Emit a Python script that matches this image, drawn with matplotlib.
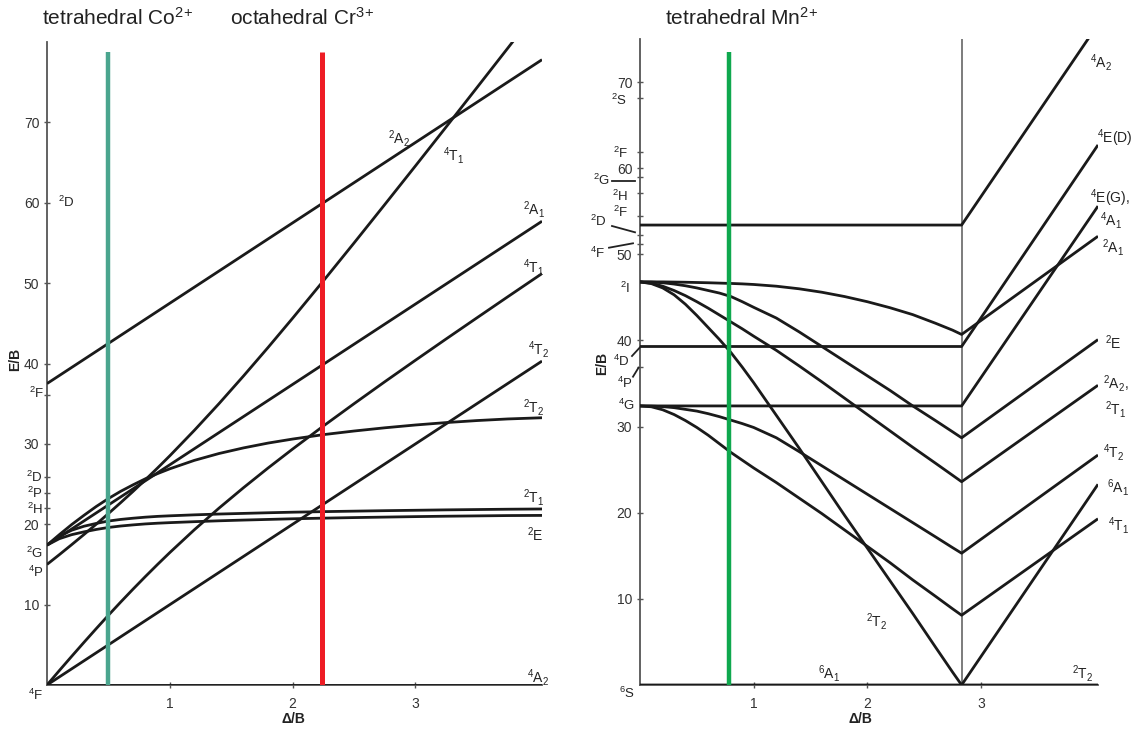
import matplotlib
matplotlib.use('Agg')
import matplotlib.pyplot as plt
from matplotlib.lines import Line2D

plt.rcParams['font.family'] = ['Liberation Sans', 'DejaVu Sans']
plt.rcParams['mathtext.fontset'] = 'custom'
plt.rcParams['mathtext.rm'] = 'Liberation Sans'
plt.rcParams['mathtext.it'] = 'Liberation Sans:italic'
plt.rcParams['mathtext.bf'] = 'Liberation Sans:bold'

# ---------------- data: left panel (d3: tetrahedral Co2+, octahedral Cr3+) -------------
cocr_x = [0, 0.1, 0.2, 0.3, 0.4, 0.5, 0.6, 0.7, 0.8, 0.9, 1.0, 1.2, 1.4, 1.6, 1.8, 2.0,
          2.25, 2.5, 2.75, 3.0, 3.25, 3.5, 3.75, 4.03]
cocr_4T1F = [0, 1.79, 3.55, 5.29, 7.0, 8.68, 10.32, 11.92, 13.48, 15.0, 16.48, 19.32,
             22.0, 24.55, 27.0, 29.36, 32.22, 35.0, 37.73, 40.41, 43.06, 45.68, 48.29, 51.19]
cocr_4T1P = [15.0, 16.21, 17.45, 18.71, 20.0, 21.33, 22.69, 24.08, 25.52, 27.0, 28.52,
             31.69, 35.0, 38.45, 42.0, 45.64, 50.28, 55.0, 59.78, 64.59, 69.44, 74.32,
             79.21, 84.71]
cocr_2T2 = [17.4, 18.7, 19.95, 21.1, 22.2, 23.2, 24.1, 24.9, 25.65, 26.3, 26.9, 27.95,
            28.8, 29.5, 30.1, 30.6, 31.15, 31.6, 32.0, 32.35, 32.65, 32.9, 33.1, 33.25]
cocr_2T1 = [17.4, 18.5, 19.25, 19.75, 20.1, 20.4, 20.6, 20.75, 20.88, 20.98, 21.05, 21.17,
            21.27, 21.35, 21.43, 21.5, 21.57, 21.63, 21.69, 21.74, 21.79, 21.83, 21.87, 21.9]
cocr_2E = [17.4, 18.2, 18.7, 19.05, 19.35, 19.6, 19.78, 19.92, 20.04, 20.13, 20.2, 20.32,
           20.43, 20.52, 20.6, 20.68, 20.76, 20.83, 20.89, 20.95, 21.0, 21.04, 21.08, 21.1]
cocr_line_x = [0, 4.03]
cocr_4A2 = [0, 0]
cocr_4T2 = [0, 40.3]
cocr_2A1 = [17.4, 57.7]
cocr_2A2 = [37.5, 77.8]
co_dq = 0.5
cr_dq = 2.24
cocr_marker_top = 78.8
cocr_yticks = [10, 20, 30, 40, 50, 60, 70]
cocr_term_ticks = [36.1, 25.9, 23.9, 22.0]

# ---------------- data: right panel (d5: tetrahedral Mn2+) ----------------
mn_x = [0, 0.1, 0.2, 0.3, 0.4, 0.5, 0.6, 0.7, 0.8, 0.9, 1.0, 1.2, 1.4, 1.6, 1.8, 2.0,
        2.2, 2.4, 2.6, 2.75, 2.83, 4.03]
mn_6A1 = [0] * 21 + [23.3]
mn_2T2 = [46.8, 46.6, 46.1, 45.3, 44.2, 42.9, 41.5, 40.1, 38.6, 36.9, 35.1, 31.3, 27.5,
          23.6, 19.7, 15.9, 12.1, 8.3, 4.4, 1.5, 0, 0]
mn_4T1 = [32.4, 32.3, 31.95, 31.4, 30.7, 29.9, 29.0, 28.0, 27.0, 26.1, 25.2, 23.5, 21.7,
          19.9, 18.0, 16.1, 14.2, 12.2, 10.3, 8.85, 8.1, 19.3]
mn_4T2 = [32.4, 32.38, 32.32, 32.2, 32.0, 31.8, 31.5, 31.15, 30.75, 30.35, 29.9, 28.7,
          27.1, 25.45, 23.8, 22.15, 20.5, 18.85, 17.2, 15.95, 15.3, 26.7]
mn_2A2_2T1 = [46.8, 46.65, 46.3, 45.8, 45.2, 44.5, 43.75, 42.95, 42.15, 41.35, 40.5,
              38.85, 37.05, 35.2, 33.3, 31.4, 29.5, 27.6, 25.75, 24.35, 23.6, 34.8]
mn_2E = [46.8, 46.78, 46.7, 46.55, 46.35, 46.1, 45.8, 45.5, 45.1, 44.5, 43.85, 42.6,
         41.0, 39.3, 37.6, 35.9, 34.2, 32.4, 30.7, 29.4, 28.7, 40.1]
mn_2A1 = [46.8, 46.8, 46.8, 46.78, 46.76, 46.73, 46.7, 46.66, 46.62, 46.57, 46.5, 46.3,
          46.0, 45.6, 45.1, 44.5, 43.8, 43.0, 42.0, 41.2, 40.7, 52.1]
mn_4E_G = [32.4] * 21 + [55.6]
mn_4E_D = [39.3] * 21 + [62.7]
mn_4A2 = [53.4] * 21 + [76.7]
mn_dq = 0.78
mn_crossover = 2.83
mn_marker_top = 73.5
mn_yticks = [10, 20, 30, 40, 50, 60, 70]
mn_term_ticks = [68.1, 61.9, 59.0, 57.1, 54.4, 52.2, 51.2, 36.9]

# ---------------- figure ----------------
W, H = 1131, 738
fig = plt.figure(figsize=(W / 100, H / 100), dpi=100)


def fx(px):
    return px / W


def fy(py):
    return 1 - py / H


LINE = '#1a1a1a'
LW = 2.0
SPINE = '#555555'

axL = fig.add_axes([fx(47), fy(685), fx(542) - fx(47), fy(42) - fy(685)])
axR = fig.add_axes([fx(640), fy(685), fx(1098) - fx(640), fy(39) - fy(685)])

for ax, ymax, yt, tt in [(axL, 80, cocr_yticks, cocr_term_ticks),
                         (axR, 75, mn_yticks, mn_term_ticks)]:
    ax.set_xlim(0, 4.03)
    ax.set_ylim(0, ymax)
    for s in ['top', 'right']:
        ax.spines[s].set_visible(False)
    for s in ['left', 'bottom']:
        ax.spines[s].set_color(SPINE)
        ax.spines[s].set_linewidth(1.3)
    ax.set_xticks([1, 2, 3])
    ax.set_xticklabels(['1', '2', '3'])
    ax.set_yticks(yt)
    ax.set_yticklabels([str(v) for v in yt])
    ax.set_yticks(tt, minor=True)
    ax.tick_params(axis='both', which='both', direction='inout', length=5,
                   width=1.0, color=SPINE, labelsize=10, labelcolor='#333333')
    ax.tick_params(axis='y', which='both', pad=3)
    ax.tick_params(axis='x', which='both', pad=6)
    ax.patch.set_alpha(0)

# left curves
kw = dict(color=LINE, lw=LW, solid_capstyle='butt', solid_joinstyle='round', zorder=3)
for ys in [cocr_4T1F, cocr_4T1P, cocr_2T2, cocr_2T1, cocr_2E]:
    axL.plot(cocr_x, ys, **kw)
for ys in [cocr_4A2, cocr_4T2, cocr_2A1, cocr_2A2]:
    axL.plot(cocr_line_x, ys, **kw)
axL.plot([co_dq, co_dq], [0, cocr_marker_top], color='#4aa58e', lw=3.2, zorder=5,
         solid_capstyle='butt')
axL.plot([cr_dq, cr_dq], [0, cocr_marker_top], color='#ee1c24', lw=3.6, zorder=5,
         solid_capstyle='butt')

# right curves
axR.plot([mn_crossover, mn_crossover], [0, 75], color='#666666', lw=1.2, zorder=2)
for ys in [mn_6A1, mn_2T2, mn_4T1, mn_4T2, mn_2A2_2T1, mn_2E, mn_2A1,
           mn_4E_G, mn_4E_D, mn_4A2]:
    axR.plot(mn_x, ys, **kw)
axR.plot([mn_dq, mn_dq], [0, mn_marker_top], color='#0fa84e', lw=3.2, zorder=5,
         solid_capstyle='butt')


def pt(px, py, s, ha='left', size=10, **k):
    fig.text(fx(px), fy(py), s, ha=ha, va='center', fontsize=size, color='#222222', **k)


# titles
fig.text(fx(42), fy(25), 'tetrahedral Co$^{2}$$^{+}$', fontsize=15, va='baseline',
         color='#222222')
fig.text(fx(230), fy(25), 'octahedral Cr$^{3}$$^{+}$', fontsize=15, va='baseline',
         color='#222222')
fig.text(fx(665), fy(25), 'tetrahedral Mn$^{2}$$^{+}$', fontsize=15, va='baseline',
         color='#222222')

# axis titles
pt(15, 359, 'E/B', ha='center', size=10, rotation=90, fontweight='bold')
pt(602, 363, 'E/B', ha='center', size=10, rotation=90, fontweight='bold')
pt(293, 719, 'Δ/B', ha='center', size=10, fontweight='bold')
pt(860, 719, 'Δ/B', ha='center', size=10, fontweight='bold')

TS = 9.5
# left free-ion terms
pt(58, 202, '$^{2}$D', size=TS)
for s, x, y in [('$^{2}$F', 44, 393), ('$^{2}$D', 43, 477), ('$^{2}$P', 43, 493),
                ('$^{2}$H', 43, 509), ('$^{2}$G', 43, 553), ('$^{4}$P', 44, 572),
                ('$^{4}$F', 43, 695)]:
    pt(x, y, s, ha='right', size=TS)

# left state labels
for s, x, y in [('$^{2}$A$_{2}$', 388, 138), ('$^{4}$T$_{1}$', 443, 155),
                ('$^{2}$A$_{1}$', 523, 209), ('$^{4}$T$_{1}$', 523, 268),
                ('$^{4}$T$_{2}$', 528, 350), ('$^{2}$T$_{2}$', 523, 408),
                ('$^{2}$T$_{1}$', 523, 498), ('$^{2}$E', 527, 535),
                ('$^{4}$A$_{2}$', 527, 677)]:
    pt(x, y, s)

# right free-ion terms
for s, x, y in [('$^{2}$S', 627, 100), ('$^{2}$F', 628, 153), ('$^{2}$G', 610, 180),
                ('$^{2}$H', 628, 196), ('$^{2}$F', 628, 212), ('$^{2}$D', 607, 221),
                ('$^{4}$F', 605, 253), ('$^{2}$I', 630, 288), ('$^{4}$D', 630, 361),
                ('$^{4}$P', 633, 383), ('$^{4}$G', 635, 405), ('$^{6}$S', 635, 693)]:
    pt(x, y, s, ha='right', size=TS)

for (x1, y1, x2, y2) in [(612, 180.7, 635, 180.7), (612, 226, 635, 232.3),
                         (609, 247.7, 633, 243.3), (632, 356, 640, 347.3),
                         (633, 376.7, 638.5, 367.7)]:
    fig.add_artist(Line2D([fx(x1), fx(x2)], [fy(y1), fy(y2)], transform=fig.transFigure,
                          color='#222222', lw=1.3))

# right state labels
for s, x, y in [('$^{4}$A$_{2}$', 1090, 62), ('$^{4}$E(D)', 1097, 138),
                ('$^{4}$E(G),', 1090, 198), ('$^{4}$A$_{1}$', 1100, 220),
                ('$^{2}$A$_{1}$', 1102, 247), ('$^{2}$E', 1105, 343),
                ('$^{2}$A$_{2}$,', 1103, 383), ('$^{2}$T$_{1}$', 1105, 410),
                ('$^{4}$T$_{2}$', 1103, 453), ('$^{6}$A$_{1}$', 1107, 487),
                ('$^{4}$T$_{1}$', 1108, 525), ('$^{2}$T$_{2}$', 1072, 673),
                ('$^{6}$A$_{1}$', 818, 673), ('$^{2}$T$_{2}$', 866, 622)]:
    pt(x, y, s)

fig.savefig('out.png', dpi=100, facecolor='white')
